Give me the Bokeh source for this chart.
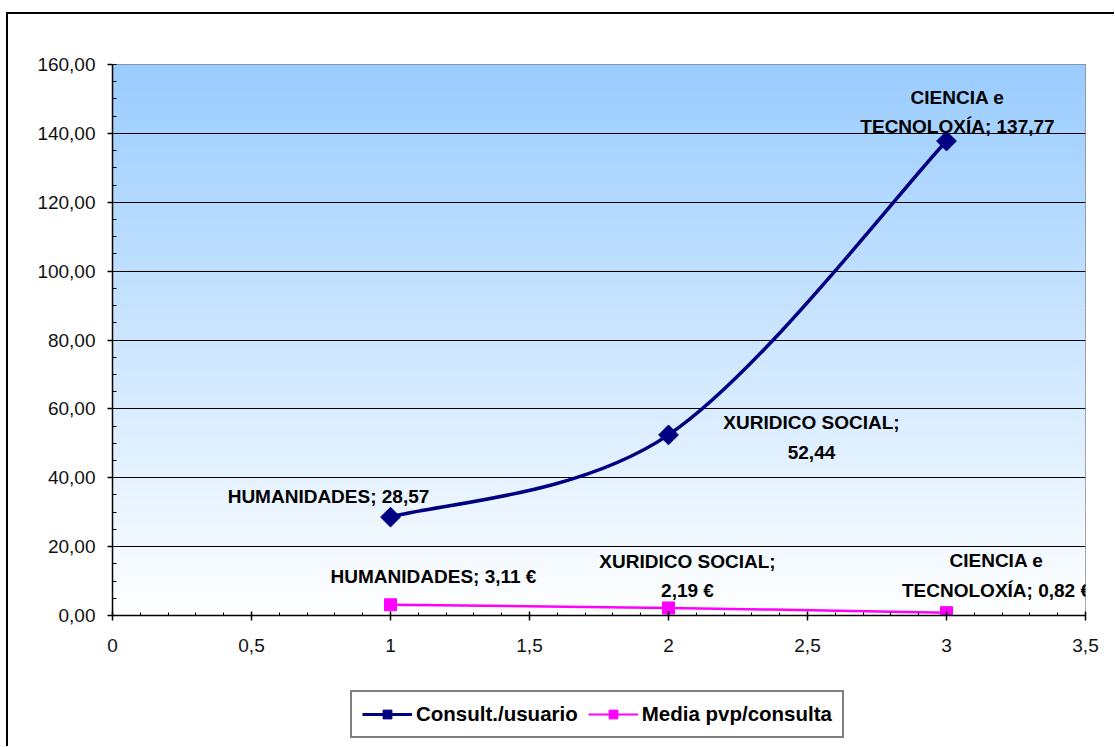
import numpy as np
from bokeh.plotting import figure
from bokeh.layouts import column
from bokeh.models import (ColumnDataSource, Range1d, SingleIntervalTicker,
                          CustomJSTickFormatter, Legend, LegendItem)
from bokeh.core.properties import value
from bokeh.embed import file_html
from bokeh.resources import INLINE

# ---------------- data ----------------
x_pos = [1, 2, 3]
categories = ["HUMANIDADES", "XURIDICO SOCIAL", "CIENCIA e TECNOLOXÍA"]
consult_usuario = [28.57, 52.44, 137.77]
media_pvp = [3.11, 2.19, 0.82]
consult_labels = ["HUMANIDADES; 28,57", "XURIDICO SOCIAL;\n52,44",
                  "CIENCIA e\nTECNOLOXÍA; 137,77"]
pvp_labels = ["HUMANIDADES; 3,11 €", "XURIDICO SOCIAL;\n2,19 €",
              "CIENCIA e\nTECNOLOXÍA; 0,82 €"]
series_names = ["Consult./usuario", "Media pvp/consulta"]

# ---------------- style ----------------
NAVY = "#000080"
PINK = "#FF00FF"
FONT = "Liberation Sans"
consult_dx = [-62, 143, 11]
consult_dy = [-21, 3, -29]
pvp_dx = [43, 19, 50]
pvp_dy = [-28, -32, -37]
W = 1114
H_MAIN = 662
H_LEG = 84


def smooth_bezier(xs, ys):
    """Excel-like smoothing: Catmull-Rom (tension 1/6) segments as cubic beziers."""
    n = len(xs)
    P = list(zip(xs, ys))
    out = dict(x0=[], y0=[], x1=[], y1=[], cx0=[], cy0=[], cx1=[], cy1=[])
    for i in range(n - 1):
        p0 = P[i - 1] if i > 0 else P[i]
        p1 = P[i]
        p2 = P[i + 1]
        p3 = P[i + 2] if i + 2 < n else P[i + 1]
        c1 = (p1[0] + (p2[0] - p0[0]) / 6, p1[1] + (p2[1] - p0[1]) / 6)
        c2 = (p2[0] - (p3[0] - p1[0]) / 6, p2[1] - (p3[1] - p1[1]) / 6)
        out["x0"].append(p1[0]); out["y0"].append(p1[1])
        out["x1"].append(p2[0]); out["y1"].append(p2[1])
        out["cx0"].append(c1[0]); out["cy0"].append(c1[1])
        out["cx1"].append(c2[0]); out["cy1"].append(c2[1])
    return out


p = figure(width=W, height=H_MAIN, output_backend="svg", toolbar_location=None,
           x_range=Range1d(0, 3.5), y_range=Range1d(0, 160),
           min_border_left=112, min_border_right=29, min_border_top=64,
           min_border_bottom=H_MAIN - 615, border_fill_color=None,
           background_fill_color="white")

# gradient background of plot area (light blue top -> white bottom)
nb = 160
edges = np.linspace(0, 160, nb + 1)
top_c = np.array([153, 204, 255])
bot_c = np.array([255, 255, 255])
cols = []
for k in range(nb):
    t = (edges[k] + edges[k + 1]) / 2 / 160
    c = bot_c + (top_c - bot_c) * t
    cols.append("#%02x%02x%02x" % tuple(int(round(v)) for v in c))
p.quad(left=0, right=3.5, bottom=edges[:-1], top=np.minimum(edges[1:] + 0.4, 160),
       fill_color=cols, line_color=None, level="image")

p.outline_line_color = "#808080"
p.outline_line_width = 1

# grid
p.xgrid.visible = False
p.ygrid.grid_line_color = "black"
p.ygrid.grid_line_width = 1

# axes
p.xaxis.ticker = SingleIntervalTicker(interval=0.5, num_minor_ticks=5)
p.yaxis.ticker = SingleIntervalTicker(interval=20, num_minor_ticks=4)
p.xaxis.formatter = CustomJSTickFormatter(
    code="return (Math.round(tick*10)/10).toString().replace('.', ',');")
p.yaxis.formatter = CustomJSTickFormatter(
    code="return tick.toFixed(2).replace('.', ',');")
for ax in (p.xaxis[0], p.yaxis[0]):
    ax.axis_line_color = "black"
    ax.axis_line_width = 1.5
    ax.major_tick_line_color = "black"
    ax.minor_tick_line_color = "black"
    ax.major_tick_line_width = 1.5
    ax.major_label_text_font = FONT
    ax.major_label_text_font_size = "19px"
    ax.major_label_text_color = "#111111"
p.xaxis.major_tick_in = 4
p.xaxis.major_tick_out = 5
p.xaxis.minor_tick_in = 3
p.xaxis.minor_tick_out = 0
p.xaxis.major_label_standoff = 18
p.yaxis.major_tick_in = 0
p.yaxis.major_tick_out = 5
p.yaxis.minor_tick_in = 4
p.yaxis.minor_tick_out = 0
p.yaxis.major_label_standoff = 12

# series 1: Consult./usuario
b1 = p.bezier(source=ColumnDataSource(smooth_bezier(x_pos, consult_usuario)),
              x0="x0", y0="y0", x1="x1", y1="y1", cx0="cx0", cy0="cy0",
              cx1="cx1", cy1="cy1", line_color=NAVY, line_width=3.5)
m1 = p.scatter(x_pos, consult_usuario, marker="square", angle=np.pi / 4, size=14,
               fill_color=NAVY, line_color=NAVY)

# series 2: Media pvp/consulta
b2 = p.bezier(source=ColumnDataSource(smooth_bezier(x_pos, media_pvp)),
              x0="x0", y0="y0", x1="x1", y1="y1", cx0="cx0", cy0="cy0",
              cx1="cx1", cy1="cy1", line_color=PINK, line_width=2.5)
m2 = p.scatter(x_pos, media_pvp, marker="square", size=12,
               fill_color=PINK, line_color=PINK)

# data labels
src1 = ColumnDataSource(dict(x=x_pos, y=consult_usuario, t=consult_labels,
                             dx=consult_dx, dy=consult_dy))
p.text(x="x", y="y", text="t", source=src1, x_offset="dx", y_offset="dy",
       text_align="center", text_baseline="middle", text_font=value(FONT),
       text_font_size="19px", text_font_style="bold", text_color="black",
       text_line_height=1.42)
src2 = ColumnDataSource(dict(x=x_pos, y=media_pvp, t=pvp_labels,
                             dx=pvp_dx, dy=pvp_dy))
p.text(x="x", y="y", text="t", source=src2, x_offset="dx", y_offset="dy",
       text_align="center", text_baseline="middle", text_font=value(FONT),
       text_font_size="19px", text_font_style="bold", text_color="black",
       text_line_height=1.42)

# ---------------- legend strip (own small canvas below the chart) ----------------
# The series are re-plotted here outside the visible ranges, only to feed the legend.
lf = figure(width=W, height=H_LEG, output_backend="svg", toolbar_location=None,
            x_range=Range1d(100, 200), y_range=Range1d(1000, 2000),
            x_axis_type=None, y_axis_type=None, min_border=0,
            border_fill_color=None, background_fill_color=None,
            outline_line_color=None)
lf.grid.visible = False
lg1 = lf.line(x=x_pos, y=consult_usuario, line_color=NAVY, line_width=3)
lm1 = lf.scatter(x=x_pos, y=consult_usuario, marker="square", angle=np.pi / 4,
                 size=8, fill_color=NAVY, line_color=NAVY)
lg2 = lf.line(x=x_pos, y=media_pvp, line_color=PINK, line_width=2)
lm2 = lf.scatter(x=x_pos, y=media_pvp, marker="square", size=10,
                 fill_color=PINK, line_color=PINK)
legend = Legend(items=[LegendItem(label=series_names[0], renderers=[lg1, lm1]),
                       LegendItem(label=series_names[1], renderers=[lg2, lm2])],
                orientation="horizontal", location=(238, H_LEG - 46 - 30),
                label_text_font=FONT, label_text_font_size="20.5px",
                label_text_font_style="bold", label_text_color="black",
                glyph_width=50, glyph_height=22, label_standoff=4, spacing=10,
                padding=10, margin=0, border_line_color="black",
                border_line_width=2, background_fill_color="white",
                background_fill_alpha=1.0)
lf.add_layout(legend, "center")

layout = column(p, lf, spacing=0,
                styles={"background": "linear-gradient(#000,#000) 6px 12px / calc(100% - 6px) 2px no-repeat, "
                                      "linear-gradient(#000,#000) 6px 12px / 2px calc(100% - 12px) no-repeat"})

open("out.html", "w").write(file_html(layout, INLINE))
